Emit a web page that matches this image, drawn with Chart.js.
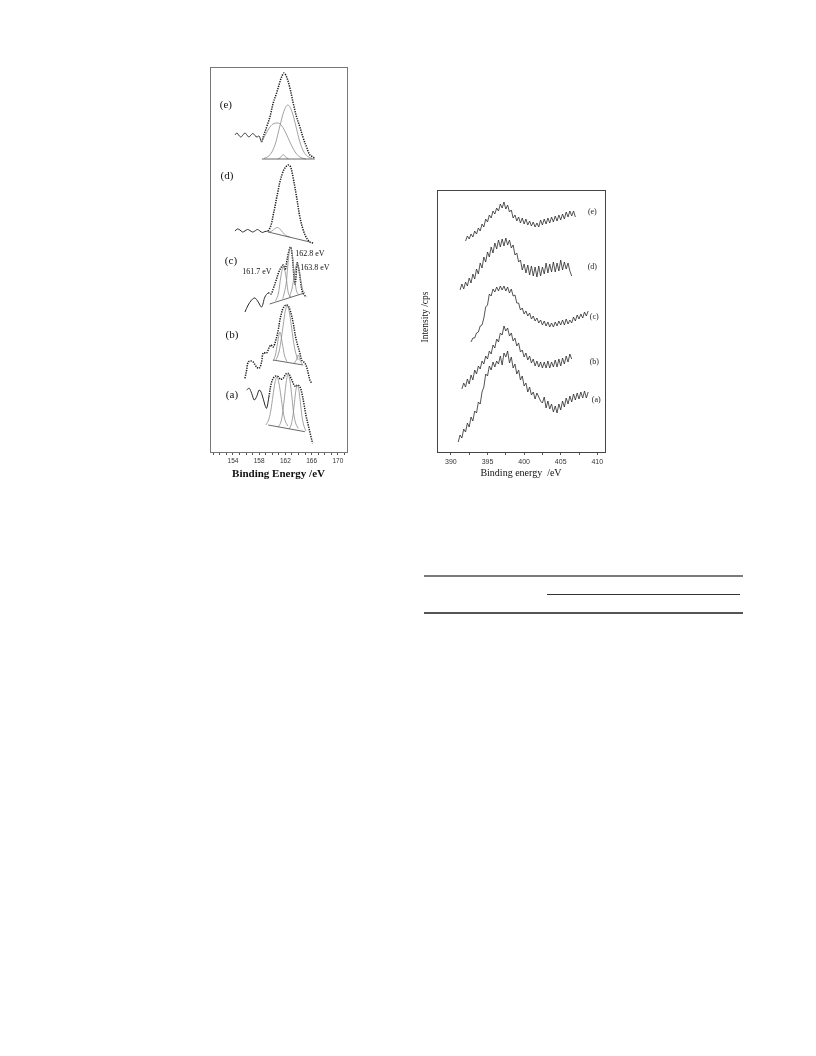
<!DOCTYPE html>
<html>
<head>
<meta charset="utf-8">
<script src="https://cdn.jsdelivr.net/npm/chart.js@4.4.1/dist/chart.umd.min.js"></script>
<style>
  html, body { margin: 0; padding: 0; background: #fff; }
  #page { position: relative; width: 816px; height: 1056px; background: #fff; overflow: hidden; }
  canvas { position: absolute; }
  .rule { position: absolute; }
</style>
</head>
<body>
<div id="page">
  <canvas id="s2p" width="200" height="440" style="left:180px;top:50px"></canvas>
  <canvas id="n1s" width="240" height="320" style="left:395px;top:170px"></canvas>
  <div class="rule" style="left:424px;top:575px;width:319px;height:2px;background:#7a7a7a"></div>
  <div class="rule" style="left:547px;top:594px;width:193px;height:1px;background:#333"></div>
  <div class="rule" style="left:424px;top:612px;width:319px;height:1.5px;background:#555"></div>
</div>
<script>
// ---------- S 2p spectra (left panel): [binding energy eV, intensity] ----------
const s2pTickValues = [151,152,153,154,155,156,157,158,159,160,161,162,163,164,165,166,167,168,169,170,171];
const s2pTickLabels = [154,158,162,166,170];

const s2pE = [[154.30,317],[154.61,319],[154.91,316.5],[155.22,315],[155.52,317],[155.83,319],[156.13,317],[156.44,315],[156.74,317],[157.05,318.5],[157.35,316.5],[157.66,315],[157.96,316],[158.19,313],[158.37,310],[158.62,315],[159.14,325],[159.64,335],[160.14,349],[160.66,359],[161.16,370],[161.42,375],[161.77,379],[162.19,375],[162.69,364],[163.19,349],[163.71,335],[164.21,325],[164.72,314],[165.23,305],[165.74,297],[166.24,295],[166.50,293]];
const s2pE_fit1 = [[158.37,310],[159.03,318],[159.64,325],[160.25,328.5],[160.86,329],[161.47,326],[162.07,319],[162.69,310],[163.30,302],[163.91,296.5],[164.52,294],[165.13,293]];
const s2pE_fit2 = [[158.73,293.6],[159.34,295.4],[159.95,300],[160.55,310],[161.16,326],[161.77,340.7],[162.38,347],[162.99,340.7],[163.60,326],[164.21,310],[164.82,300],[165.43,295.4],[166.04,293.6]];
const s2pE_fit3 = [[160.86,293],[161.32,295],[161.67,297.5],[162.02,295],[162.48,293]];
const s2pE_base = [[158.42,293],[166.50,293]];

const s2pD = [[154.30,221],[154.69,223],[155.07,222],[155.45,220],[155.83,221],[156.21,222.5],[156.59,221.5],[156.97,220],[157.35,221],[157.73,222.5],[158.12,221],[158.50,219.5],[158.88,220.5],[159.34,221],[159.64,224],[159.90,229],[160.14,237],[160.40,245],[160.66,254],[160.91,262],[161.16,270],[161.57,279],[161.93,284],[162.43,287],[162.80,285],[163.19,274],[163.71,255],[164.21,235],[164.72,222],[165.23,214],[165.74,210],[166.24,209]];
const s2pD_fit1 = [[159.34,220],[159.95,221],[160.40,223.5],[160.78,224.5],[161.16,223],[161.62,219.5],[162.07,216.5],[162.69,215]];
const s2pD_base = [[159.38,220],[165.74,210]];

const s2pC = [[155.83,140],[156.33,147],[156.85,152],[157.35,154],[157.86,150],[158.37,145],[158.88,155],[159.38,159],[159.79,158],[160.14,163],[160.60,172],[161.00,180],[161.40,185],[161.70,187],[161.95,182],[162.20,190],[162.50,200],[162.80,205],[163.05,196],[163.30,176],[163.50,168],[163.80,189],[164.05,183],[164.35,169],[164.60,160],[164.90,157],[165.20,155]];
const s2pC_fit1 = [[160.50,151],[160.95,159],[161.30,175],[161.70,186],[162.10,175],[162.45,159],[162.90,155]];
const s2pC_fit2 = [[161.60,153.5],[161.90,161],[162.15,170],[162.35,185],[162.57,199],[162.80,205],[163.03,199],[163.25,185],[163.47,170],[163.70,161],[164.00,157.5]];
const s2pC_fit3 = [[162.60,155],[163.00,163],[163.40,178],[163.80,189],[164.20,178],[164.60,163],[165.00,159]];
const s2pC_base = [[159.60,148],[164.90,159]];

const s2pB = [[155.83,73.7],[156.09,82],[156.33,90],[156.74,91],[157.09,90],[157.61,85],[158.01,83.7],[158.37,90],[158.62,99],[159.14,99],[159.49,104],[159.79,107],[160.14,105],[160.55,112],[160.91,122],[161.16,132],[161.42,139],[161.67,144],[162.08,147],[162.43,146],[162.80,140],[163.19,129],[163.56,115],[163.86,107],[164.21,99],[164.47,92],[164.82,90],[165.13,87],[165.48,79],[165.74,72],[166.00,69]];
const s2pB_fit1 = [[160.14,91],[160.48,97],[160.78,108],[161.16,120],[161.55,108],[161.85,97],[162.23,90.5]];
const s2pB_fit2 = [[160.60,92.3],[161.06,101],[161.36,112.6],[161.67,127],[161.97,140.5],[162.28,146],[162.58,140.5],[162.89,127],[163.19,112.6],[163.50,101],[163.95,92]];
const s2pB_fit3 = [[163.30,88.5],[163.60,91],[163.95,97],[164.29,91],[164.59,88]];
const s2pB_base = [[160.14,92],[164.72,87]];

const s2pA = [[156.09,62],[156.48,63.7],[156.85,58.7],[157.25,52],[157.61,55.3],[158.01,62],[158.37,58.7],[158.88,47],[159.14,43.7],[159.49,55.3],[159.79,67],[160.14,73.7],[160.55,76],[160.91,75.3],[161.27,72.7],[161.67,73.7],[162.08,78],[162.43,78.7],[162.80,74.7],[163.19,68.7],[163.56,65.3],[163.86,67],[164.21,65.3],[164.52,58.7],[164.82,48.7],[165.13,37],[165.48,27],[165.84,17],[166.15,8.7]];
const s2pA_fit1 = [[159.03,27],[159.49,33],[159.79,42],[160.10,56],[160.40,69],[160.71,75],[161.01,69],[161.32,56],[161.62,42],[161.93,32],[162.38,26]];
const s2pA_fit2 = [[160.91,25],[161.36,31],[161.62,41],[161.90,57],[162.16,71.5],[162.43,78],[162.69,71.5],[162.96,57],[163.22,41],[163.50,30.5],[163.95,23.5]];
const s2pA_fit3 = [[162.54,23],[162.92,28],[163.15,36.4],[163.38,49.5],[163.60,61.6],[163.83,67],[164.06,61.6],[164.29,49.5],[164.52,36.4],[164.75,28],[165.13,21]];
const s2pA_base = [[159.38,27],[164.98,20.3]];

const s2pTraceTags = ['(a)','(b)','(c)','(d)','(e)'];
const s2pPeakTags = ['161.7 eV','162.8 eV','163.8 eV'];

// ---------- N 1s spectra (right panel) ----------
const n1sEnergy = [391,391.25,391.5,391.75,392,392.25,392.5,392.75,393,393.25,393.5,393.75,394,394.25,394.5,394.75,395,395.25,395.5,395.75,396,396.25,396.5,396.75,397,397.25,397.5,397.75,398,398.25,398.5,398.75,399,399.25,399.5,399.75,400,400.25,400.5,400.75,401,401.25,401.5,401.75,402,402.25,402.5,402.75,403,403.25,403.5,403.75,404,404.25,404.5,404.75,405,405.25,405.5,405.75,406,406.25,406.5,406.75,407,407.25,407.5,407.75,408,408.25,408.5,408.75,409];
const n1sA = [10,17,14,23,20,29,25,35,31,41,39,50,48,60,65,78,76,86,82,90,85,91,88,96,87,99,95,101,89,95,84,88,78,82,72,76,66,69,60,65,57,60,53,59,55,51,49,55,44,51,43,48,40,46,39,48,42,51,45,54,48,56,50,58,52,59,53,60,54,61,54,60,null];
const n1sB = [null,null,63,69,65,73,68,77,72,82,78,86,83,91,88,96,93,101,98,107,104,113,110,119,117,126,121,124,116,119,111,114,106,109,100,102,95,99,92,96,89,93,86,91,85,90,84,90,84,91,84,90,85,92,85,93,86,94,88,96,90,98,93,null,null,null,null,null,null,null,null,null,null];
const n1sC = [null,null,null,null,null,null,null,110,114,114,119,120,126,127,134,145,147,158,156,163,160,165,161,166,162,166,161,165,159,163,156,157,149,149,142,144,138,141,136,139,133,136,131,134,129,132,127,131,126,130,125,129,125,130,126,131,127,132,127,133,128,132,129,135,131,137,133,138,134,140,136,141,null];
const n1sD = [null,162,168,163,170,166,174,169,178,173,183,178,189,184,195,190,200,195,205,199,209,203,212,205,213,206,214,207,212,204,207,197,199,190,192,182,188,179,187,177,186,176,185,175,186,176,185,178,189,179,188,180,190,180,189,181,192,182,190,183,189,181,176,null,null,null,null,null,null,null,null,null,null];
const n1sE = [null,null,null,null,211,216,213,218,215,221,218,224,221,228,225,233,230,237,234,241,238,244,241,248,244,250,243,247,240,242,234,237,231,235,229,234,228,233,227,231,226,230,225,229,225,232,227,233,228,234,229,235,230,236,231,237,232,238,233,240,235,241,236,241,235,null,null,null,null,null,null,null,null];
const n1sTickValues = [390,392.5,395,397.5,400,402.5,405,407.5,410];
const n1sTickLabels = [390,395,400,405,410];
const n1sTraceTags = ['(a)','(b)','(c)','(d)','(e)'];

// ---------- helpers ----------
const toXY = arr => arr.map(([x, y]) => ({ x, y }));
const zipXY = (xs, ys) => xs.map((x, i) => ({ x, y: ys[i] })).filter(p => p.y !== null);
const DOTS = [1.3, 1.1];

// measured trace: thin solid line on the low-energy wiggles, dotted through the peak region
function measured(arr, solidUntil) {
  const solid = c => c.p1.parsed.x <= solidUntil;
  return {
    data: toXY(arr), borderColor: '#1c1c1c', borderWidth: 1.5, borderDash: DOTS,
    tension: 0.35, pointRadius: 0,
    segment: {
      borderDash: c => (solid(c) ? [] : DOTS),
      borderWidth: c => (solid(c) ? 1.0 : 1.5),
      borderColor: c => (solid(c) ? '#2a2a2a' : '#1c1c1c')
    }
  };
}
function component(arr) {
  return { data: toXY(arr), borderColor: '#8c8c8c', borderWidth: 0.8,
           cubicInterpolationMode: 'monotone', pointRadius: 0 };
}
function baseline(arr) {
  return { data: toXY(arr), borderColor: '#444', borderWidth: 0.8, tension: 0, pointRadius: 0 };
}
function noisy(ys) {
  return { data: zipXY(n1sEnergy, ys), borderColor: '#2a2a2a', borderWidth: 0.8, tension: 0, pointRadius: 0 };
}

// box around the plotting area
const framePlugin = {
  id: 'frame',
  afterDraw(chart, args, opts) {
    const { ctx, chartArea: { left, top, right, bottom } } = chart;
    ctx.save();
    ctx.strokeStyle = opts.color || '#444';
    ctx.lineWidth = opts.width || 1;
    ctx.strokeRect(Math.round(left) + 0.5, Math.round(top) + 0.5, Math.round(right - left), Math.round(bottom - top));
    ctx.restore();
  }
};

// text annotations placed in data coordinates, plus an optional rotated axis caption
const tagPlugin = {
  id: 'tags',
  afterDatasetsDraw(chart, args, opts) {
    const { ctx, scales: { x, y }, chartArea } = chart;
    ctx.save();
    ctx.textBaseline = 'middle';
    for (const g of (opts.groups || [])) {
      ctx.font = g.font;
      ctx.fillStyle = g.color;
      ctx.textAlign = g.align || 'center';
      g.texts.forEach((t, i) => {
        ctx.fillText(t, x.getPixelForValue(g.at[i][0]), y.getPixelForValue(g.at[i][1]));
      });
    }
    if (opts.yCaption) {
      const c = opts.yCaption;
      ctx.font = c.font;
      ctx.fillStyle = c.color;
      ctx.textAlign = 'center';
      ctx.translate(chartArea.left - c.dx, chartArea.top + c.dy);
      ctx.rotate(-Math.PI / 2);
      ctx.fillText(c.text, 0, 0);
    }
    ctx.restore();
  }
};

Chart.defaults.font.family = "'Liberation Serif', serif";

// ---------- left panel ----------
new Chart(document.getElementById('s2p'), {
  type: 'line',
  data: {
    datasets: [
      baseline(s2pE_base), component(s2pE_fit1), component(s2pE_fit2), component(s2pE_fit3), measured(s2pE, 158.4),
      baseline(s2pD_base), component(s2pD_fit1), measured(s2pD, 159.4),
      baseline(s2pC_base), component(s2pC_fit1), component(s2pC_fit2), component(s2pC_fit3), measured(s2pC, 159.4),
      baseline(s2pB_base), component(s2pB_fit1), component(s2pB_fit2), component(s2pB_fit3), measured(s2pB, 150),
      baseline(s2pA_base), component(s2pA_fit1), component(s2pA_fit2), component(s2pA_fit3), measured(s2pA, 159.5)
    ]
  },
  options: {
    responsive: false, animation: false, devicePixelRatio: 1,
    layout: { padding: { left: 30, right: 33, top: 17, bottom: 0 } },
    plugins: {
      legend: { display: false }, tooltip: { enabled: false },
      frame: { color: '#777', width: 1 },
      tags: {
        groups: [
          { texts: s2pTraceTags, at: [[153.85,57],[153.85,117],[153.70,191],[153.09,276],[152.93,347]],
            font: "11px 'Liberation Serif'", color: '#111' },
          { texts: s2pPeakTags, at: [[157.66,180],[165.74,198],[166.50,184]],
            font: "8px 'Liberation Serif'", color: '#111' }
        ]
      }
    },
    scales: {
      x: {
        type: 'linear', min: 150.5, max: 171.4,
        afterBuildTicks: s => { s.ticks = s2pTickValues.map(v => ({ value: v })); },
        afterFit: s => { s.height = 38; },
        ticks: { autoSkip: false, maxRotation: 0, padding: 2, color: '#333',
                 font: { family: "'Liberation Sans', sans-serif", size: 6.5 },
                 callback: v => s2pTickLabels.includes(v) ? String(v) : '' },
        grid: { drawOnChartArea: false, tickLength: 3, color: '#555' },
        border: { display: false },
        title: { display: true, text: 'Binding Energy /eV', color: '#111',
                 font: { family: "'Liberation Serif', serif", size: 11, weight: 'bold' },
                 padding: { top: 0, bottom: 9 } }
      },
      y: { display: false, min: 0, max: 385 }
    }
  },
  plugins: [framePlugin, tagPlugin]
});

// ---------- right panel ----------
new Chart(document.getElementById('n1s'), {
  type: 'line',
  data: { datasets: [noisy(n1sE), noisy(n1sD), noisy(n1sC), noisy(n1sB), noisy(n1sA)] },
  options: {
    responsive: false, animation: false, devicePixelRatio: 1,
    layout: { padding: { left: 42, right: 30, top: 20, bottom: 0 } },
    plugins: {
      legend: { display: false }, tooltip: { enabled: false },
      frame: { color: '#444', width: 1 },
      tags: {
        groups: [
          { texts: n1sTraceTags, at: [[409.86,52],[409.59,90],[409.59,135],[409.32,185],[409.32,240]],
            font: "8px 'Liberation Serif'", color: '#222' }
        ],
        yCaption: { text: 'Intensity /cps', font: "9.5px 'Liberation Serif'", color: '#111', dx: 12, dy: 127 }
      }
    },
    scales: {
      x: {
        type: 'linear', min: 388.1, max: 411.05,
        afterBuildTicks: s => { s.ticks = n1sTickValues.map(v => ({ value: v })); },
        afterFit: s => { s.height = 38; },
        ticks: { autoSkip: false, maxRotation: 0, padding: 3, color: '#333',
                 font: { family: "'Liberation Sans', sans-serif", size: 7 },
                 callback: v => n1sTickLabels.includes(v) ? String(v) : '' },
        grid: { drawOnChartArea: false, tickLength: 3, color: '#555' },
        border: { display: false },
        title: { display: true, text: 'Binding energy  /eV', color: '#111',
                 font: { family: "'Liberation Serif', serif", size: 10 },
                 padding: { top: 0, bottom: 11 } }
      },
      y: { display: false, min: 0, max: 262 }
    }
  },
  plugins: [framePlugin, tagPlugin]
});
</script>
</body>
</html>
